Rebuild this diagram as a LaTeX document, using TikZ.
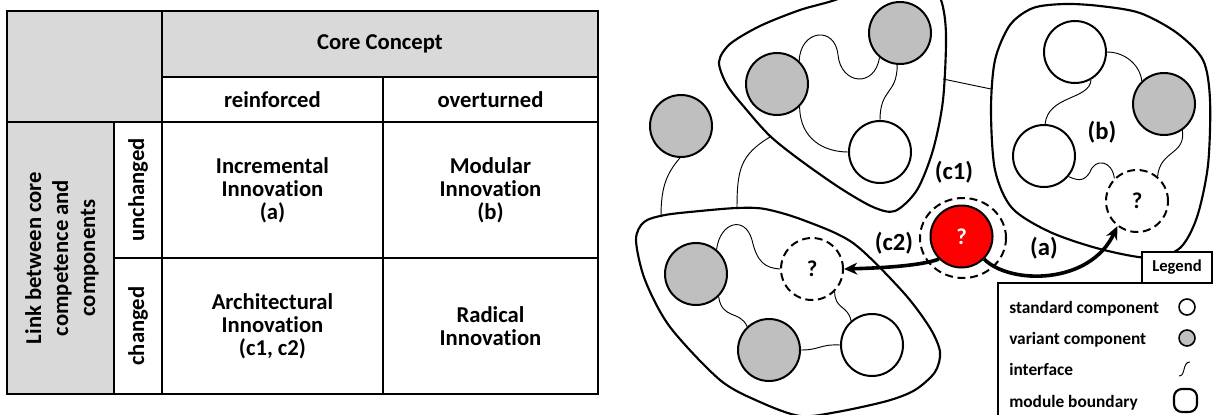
\documentclass[tikz,border=0pt]{standalone}
\usepackage{fontspec}
\setmainfont{Carlito}[Ligatures=NoCommon]
\usetikzlibrary{arrows.meta,shapes.geometric}
\definecolor{hdrgray}{HTML}{D9D9D9}
\definecolor{vargray}{HTML}{BFBFBF}
\tikzset{
  cellline/.style={draw=black, line width=0.9pt},
  tabtxt/.style={align=center, inner sep=0pt, font=\fontsize{17}{17.3}\selectfont\bfseries},
  comp/.style={circle, draw, line width=1.5pt, minimum size=46.5pt, inner sep=0pt, fill=white},
  variant/.style={comp, fill=vargray},
  pending/.style={comp, dash pattern=on 6pt off 3.5pt, font=\fontsize{17}{17}\selectfont\bfseries},
  iface/.style={line width=0.7pt},
  boundary/.style={line width=1.6pt, line join=round},
  lbl/.style={inner sep=0pt, font=\fontsize{18.5}{18.5}\selectfont\bfseries},
  move/.style={line width=2.7pt, -{Stealth[length=10pt,width=9pt]}},
  legtxt/.style={anchor=base west, inner sep=0pt, font=\fontsize{13}{13}\selectfont\bfseries},
}
\begin{document}
\begin{tikzpicture}[x=0.75pt, y=-0.75pt]
\useasboundingbox (0,0) rectangle (1213,414);
\clip (0,0) rectangle (1213,414);
% table
\draw[cellline, fill=hdrgray] (7,11) rectangle (162,122);
\draw[cellline, fill=hdrgray] (162,11) rectangle (598,77);
\draw[cellline] (162,77) rectangle (383,122);
\draw[cellline] (383,77) rectangle (598,122);
\draw[cellline, fill=hdrgray] (7,122) rectangle (114,394);
\draw[cellline] (114,122) rectangle (162,258);
\draw[cellline] (114,258) rectangle (162,394);
\draw[cellline] (162,122) rectangle (383,258);
\draw[cellline] (383,122) rectangle (598,258);
\draw[cellline] (162,258) rectangle (383,394);
\draw[cellline] (383,258) rectangle (598,394);
\node[tabtxt] (core) at (380,44) {Core Concept};
\node[tabtxt] (reinf) at (272.5,99.5) {reinforced};
\node[tabtxt] (overt) at (490.5,99.5) {overturned};
\node[tabtxt, rotate=90] (linklab) at (62,258) {Link between core\\[3pt]competence and\\[3pt]components};
\node[tabtxt, rotate=90] (unch) at (138,190) {unchanged};
\node[tabtxt, rotate=90] (chg) at (138,326) {changed};
\node[tabtxt] (incr) at (272.5,190) {Incremental\\Innovation\\(a)};
\node[tabtxt] (modu) at (490.5,190) {Modular\\Innovation\\(b)};
\node[tabtxt] (arch) at (272.5,326) {Architectural\\Innovation\\(c1, c2)};
\node[tabtxt] (radi) at (490.5,326) {Radical\\Innovation};
% module boundaries
\draw[boundary] plot[smooth cycle] coordinates {(925,-25) (941,0) (946,35) (943,100) (933,150) (917,190) (895,211) (873,207) (840,188) (800,160) (770,136) (745,108) (727,85) (719,62) (730,44) (760,26) (800,10) (838,-1) (880,-20)};
\draw[boundary] plot[smooth cycle] coordinates {(1033,8) (1065,4) (1100,6) (1140,13) (1177,33) (1203,60) (1210,100) (1208,165) (1197,217) (1180,248) (1150,258) (1100,249) (1050,232) (1012,208) (995,170) (991,110) (995,60) (1010,25)};
\draw[boundary] plot[smooth cycle] coordinates {(636,240) (644,222) (665,215) (700,211) (737,208) (765,209) (803,220) (853,243) (903,292) (930,328) (940,352) (935,372) (915,390) (887,401) (837,412) (800,416) (760,402) (720,380) (670,327) (645,280)};
\coordinate (m1edge) at (770,137);
\coordinate (m1right) at (943,79);
\coordinate (m2left) at (991,89);
\coordinate (m3top1) at (661,217);
\coordinate (m3top2) at (737,209);
% components
\node[variant] (solo) at (681,126){};
\node[variant] (m1a) at (777,84){};
\node[variant] (m1b) at (900,33){};
\node[comp] (m1c) at (880,152){};
\node[comp] (m2a) at (1075,52){};
\node[variant] (m2b) at (1164,104){};
\node[comp] (m2c) at (1044,156){};
\node[pending] (m2d) at (1137,201){?};
\node[variant] (m3a) at (696,274){};
\node[pending] (m3b) at (812,269){?};
\node[variant] (m3c) at (769,350){};
\node[comp] (m3d) at (872,345){};
\node[draw, ellipse, dash pattern=on 6pt off 3.5pt, line width=1.5pt, minimum width=64.5pt, minimum height=60pt] (ring) at (963,238){};
\node[comp, fill=red, text=white, font=\fontsize{17}{17}\selectfont\bfseries] (red) at (961.5,236.5){?};
% interfaces
\draw[iface] (m1a.46) .. controls (800,30) and (835,25) .. (838,55) .. controls (841,85) and (875,88) .. (m1b.230);
\draw[iface] (m1b.265) .. controls (897,95) and (880,88) .. (m1c.90);
\draw[iface] (m1a.315) .. controls (800,140) and (825,152) .. (m1c.180);
\draw[iface] (m2a.0) .. controls (1125,52) and (1140,65) .. (m2b.134);
\draw[iface] (m2a.300) .. controls (1090,100) and (1048,95) .. (m2c.88);
\draw[iface] (m2c.320) .. controls (1080,182) and (1085,180) .. (1090,172) .. controls (1095,158) and (1112,160) .. (m2d.135);
\draw[iface] (m2b.305) .. controls (1186,155) and (1160,150) .. (m2d.50);
\draw[iface] (m3a.50) .. controls (720,222) and (745,215) .. (752,240) .. controls (757,262) and (765,268) .. (m3b.180);
\draw[iface] (m3a.315) .. controls (722,320) and (740,310) .. (m3c.133);
\draw[iface] (m3c.0) .. controls (820,350) and (820,344) .. (m3d.180);
\draw[iface] (m3b.315) .. controls (835,310) and (848,305) .. (m3d.131);
\draw[iface] (solo.268) .. controls (665,175) and (661,190) .. (m3top1);
\draw[iface] (m1edge) .. controls (740,155) and (737,170) .. (m3top2);
\draw[iface] (m1right) -- (m2left);
% moves
\draw[move] (red.225) .. controls (920,266) and (880,268) .. (m3b.0);
\draw[move] (red.315) .. controls (1010,285) and (1090,285) .. (m2d.232);
\node[lbl] (lc1) at (954,172) {(c1)};
\node[lbl] (lc2) at (894,243) {(c2)};
\node[lbl] (la) at (1044,248) {(a)};
\node[lbl] (lb) at (1102,132) {(b)};
% legend
\draw[line width=0.8pt, fill=white] (998,283) rectangle (1225,425);
\node[draw, line width=0.8pt, fill=white, minimum width=52.5pt, minimum height=23.25pt, inner sep=0pt, font=\fontsize{12.5}{12.5}\selectfont\bfseries] (legtab) at (1177,267.5) {Legend};
\node[legtxt] (lstd) at (1009,313) {standard component};
\node[legtxt] (lvar) at (1009,344) {variant component};
\node[legtxt] (lifc) at (1009,375) {interface};
\node[legtxt] (lmod) at (1009,407) {module boundary};
\node[comp, minimum size=12pt, line width=1.2pt] (symstd) at (1187,307){};
\node[variant, minimum size=12pt, line width=1.2pt] (symvar) at (1187,338){};
\draw[iface] (1179,376) .. controls (1186,376) and (1182,362) .. (1190,362);
\draw[boundary, rounded corners=6pt] (1174,389) rectangle (1197,412);
\end{tikzpicture}
\end{document}
